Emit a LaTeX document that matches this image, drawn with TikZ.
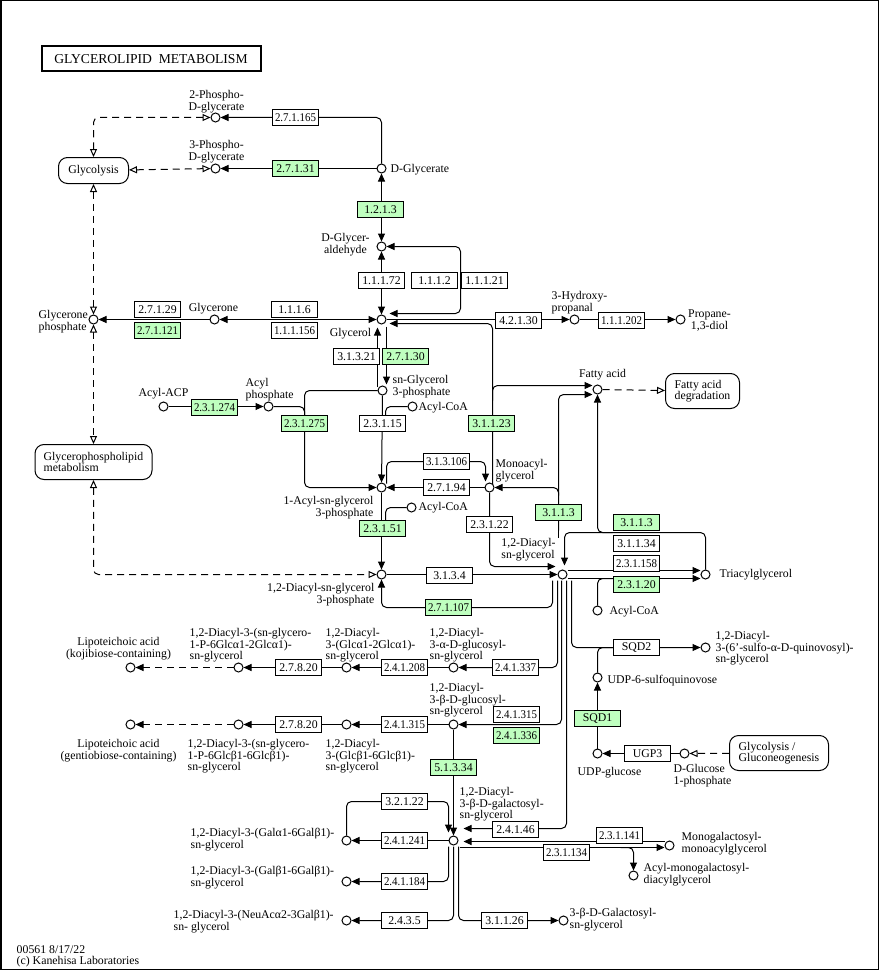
\documentclass[tikz,border=0pt]{standalone}
\usepackage{fontspec}
\setmainfont{Liberation Serif}
\usetikzlibrary{arrows.meta}
\definecolor{kgreen}{RGB}{191,255,191}
\newsavebox\ecbox
\newcommand\ecfit[1]{\sbox\ecbox{#1}\ifdim\wd\ecbox>41pt\resizebox{41pt}{\height}{\usebox\ecbox}\else\usebox\ecbox\fi}
\newcommand\ecn[4][ec]{\node[#1] (#2) at (#3) {\ecfit{#4}};}
\pgfdeclarelayer{bg}
\pgfsetlayers{bg,main}
\begin{document}
\begin{tikzpicture}[x=1pt,y=-1pt,
 conn/.style={line width=1pt, rounded corners=5pt},
 arr/.style={conn, -{Triangle[length=8pt,width=7pt]}},
 arrs/.style={conn, {Triangle[length=8pt,width=7pt]}-{Triangle[length=8pt,width=7pt]}},
 dsh/.style={line width=1pt, dash pattern=on 7pt off 5pt, rounded corners=5pt},
 harr/.style={-{Triangle[open,fill=white,length=8pt,width=7pt]}},
 harrs/.style={{Triangle[open,fill=white,length=8pt,width=7pt]}-{Triangle[open,fill=white,length=8pt,width=7pt]}},
 cpd/.style={circle, draw, line width=1pt, fill=white, minimum size=9pt, inner sep=0pt},
 ec/.style={draw, line width=1pt, fill=white, minimum width=46pt, minimum height=16pt, inner sep=0pt, font=\fontsize{11.8}{12}\selectfont},
 ecg/.style={ec, fill=kgreen},
 lbl/.style={inner sep=0pt, font=\fontsize{11.8}{11.5}\selectfont, align=left},
 lblc/.style={lbl, align=center},
 mapbox/.style={draw, line width=1pt, rounded corners=9pt, inner sep=0pt, font=\fontsize{11.8}{11.5}\selectfont, align=left}
]
\useasboundingbox (0,0) rectangle (882,971);
\draw[line width=1.5pt] (0.75,0.75) rectangle (878.25,969.25);
\begin{scope}[shift={(0.5,0.5)}]
% title
\node[draw, line width=2pt, minimum width=219pt, minimum height=25pt, inner sep=0pt, font=\fontsize{13.6}{14}\selectfont] (title) at (150.5,58.5) {GLYCEROLIPID\ \ METABOLISM};

% map boxes
\node[mapbox, minimum width=70pt, minimum height=26pt] (glycolysis) at (93,170) {Glycolysis};
\node[mapbox, minimum width=117pt, minimum height=35pt] (gpl) at (93,461.5) {Glycerophospholipid\\metabolism};
\node[mapbox, minimum width=74pt, minimum height=35pt] (fadeg) at (702,390.5) {Fatty acid\\degradation};
\node[mapbox, minimum width=99pt, minimum height=35pt] (glyco2) at (778.5,752.5) {Glycolysis /\\Gluconeogenesis};

% compounds
\node[cpd] (c2pg) at (215,117) {};
\node[cpd] (c3pg) at (215,168) {};
\node[cpd] (cdglyc) at (381,168) {};
\node[cpd] (cdgald) at (381,246) {};
\node[cpd] (cglycerol) at (381,319) {};
\node[cpd] (cdhap) at (93,319) {};
\node[cpd] (cglycerone) at (214,319) {};
\node[cpd] (cg3p) at (382,390) {};
\node[cpd] (cacylcoa1) at (412,406) {};
\node[cpd] (cacylp) at (268,406) {};
\node[cpd] (cacylacp) at (163,406) {};
\node[cpd] (c1acyl) at (381,487) {};
\node[cpd] (cacylcoa2) at (411,507) {};
\node[cpd] (cmag) at (489,487) {};
\node[cpd] (cpa) at (381,574) {};
\node[cpd] (cdag) at (562,574) {};
\node[cpd] (cfa) at (597,389) {};
\node[cpd] (chp) at (574,319) {};
\node[cpd] (cpd13) at (680,319) {};
\node[cpd] (ctag) at (705,574) {};
\node[cpd] (cacylcoa3) at (597,610) {};
\node[cpd] (csqdg) at (705,647) {};
\node[cpd] (cudpsq) at (597,677) {};
\node[cpd] (cudpg) at (597,753) {};
\node[cpd] (cg1p) at (684,753) {};
\node[cpd] (clta1) at (130,667) {};
\node[cpd] (cptaglc) at (238,667) {};
\node[cpd] (cglcglc) at (346,667) {};
\node[cpd] (caglc) at (453,667) {};
\node[cpd] (clta2) at (130,724) {};
\node[cpd] (cptbglc) at (238,724) {};
\node[cpd] (cbglcglc) at (346,724) {};
\node[cpd] (cbglc) at (453,724) {};
\node[cpd] (cmgdg) at (453,840) {};
\node[cpd] (cgal2a) at (346,840) {};
\node[cpd] (cgal2b) at (346,881) {};
\node[cpd] (cneu) at (346,920) {};
\node[cpd] (cmgmg) at (669,845) {};
\node[cpd] (camgdg) at (633,875) {};
\node[cpd] (cgalgly) at (563,920) {};

% enzymes
\ecn{e271165}{295,117}{2.7.1.165}
\ecn[ecg]{e27131}{295,168}{2.7.1.31}
\ecn[ecg]{e1213}{380,209}{1.2.1.3}
\ecn{e11172}{381,280}{1.1.1.72}
\ecn{e1112}{434,280}{1.1.1.2}
\ecn{e11121}{484,280}{1.1.1.21}
\ecn{e27129}{157,309}{2.7.1.29}
\ecn[ecg]{e271121}{157,330}{2.7.1.121}
\ecn{e1116}{294,309}{1.1.1.6}
\ecn{e111156}{294,330}{1.1.1.156}
\ecn{e42130}{518,320}{4.2.1.30}
\ecn{e111202}{621,320}{1.1.1.202}
\ecn{e31321}{356,356}{3.1.3.21}
\ecn[ecg]{e27130}{405,356}{2.7.1.30}
\ecn[ecg]{e231274}{214,407}{2.3.1.274}
\ecn[ecg]{e231275}{304,423}{2.3.1.275}
\ecn{e23115}{382,423}{2.3.1.15}
\ecn[ecg]{e31123}{491,423}{3.1.1.23}
\ecn{e313106}{446,461}{3.1.3.106}
\ecn{e27194}{446,487}{2.7.1.94}
\ecn[ecg]{e23151}{382,528}{2.3.1.51}
\ecn{e23122}{489,524}{2.3.1.22}
\ecn[ecg]{e3113a}{558,512}{3.1.1.3}
\ecn[ecg]{e3113b}{636,522}{3.1.1.3}
\ecn{e31134}{636,543}{3.1.1.34}
\ecn{e231158}{636,563}{2.3.1.158}
\ecn[ecg]{e23120}{636,584}{2.3.1.20}
\ecn{e3134}{449,575}{3.1.3.4}
\ecn[ecg]{e271107}{448,607}{2.7.1.107}
\ecn{esqd2}{636,647}{SQD2}
\ecn[ecg]{esqd1}{597,718}{SQD1}
\ecn{eugp3}{647,753}{UGP3}
\ecn{e27820a}{298,667}{2.7.8.20}
\ecn{e241208}{404,667}{2.4.1.208}
\ecn{e241337}{515,667}{2.4.1.337}
\ecn{e27820b}{298,724}{2.7.8.20}
\ecn{e241315a}{404,724}{2.4.1.315}
\ecn{e241315b}{516,714}{2.4.1.315}
\ecn[ecg]{e241336}{516,735}{2.4.1.336}
\ecn[ecg]{e51334}{453,767}{5.1.3.34}
\ecn{e32122}{404,801}{3.2.1.22}
\ecn{e241241}{404,840}{2.4.1.241}
\ecn{e241184}{404,881}{2.4.1.184}
\ecn{e2435}{404,920}{2.4.3.5}
\ecn{e24146}{515,829}{2.4.1.46}
\ecn{e231141}{619,835}{2.3.1.141}
\ecn{e231134}{566,852}{2.3.1.134}
\ecn{e31126}{504,920}{3.1.1.26}

% labels
\node[lblc] (l2pg) at (216,101) {2-Phospho-\\D-glycerate};
\node[lblc] (l3pg) at (216,151) {3-Phospho-\\D-glycerate};
\node[lbl, anchor=west] (ldglyc) at (390,169) {D-Glycerate};
\node[lblc] (ldgald) at (345,244) {D-Glycer-\\aldehyde};
\node[lbl] (lglycerol) at (350,333) {Glycerol};
\node[lbl, anchor=west] (ldhap) at (38,321) {Glycerone\\phosphate};
\node[lbl] (lglycerone) at (213,308) {Glycerone};
\node[lbl, anchor=west] (lg3p) at (392,386) {sn-Glycerol\\3-phosphate};
\node[lbl, anchor=west] (lacoa1) at (418,407) {Acyl-CoA};
\node[lbl, anchor=west] (lacylp) at (245,389) {Acyl\\phosphate};
\node[lbl] (lacp) at (163,393) {Acyl-ACP};
\node[lbl, anchor=east, align=right] (l1acyl) at (373,507) {1-Acyl-sn-glycerol\\3-phosphate};
\node[lbl, anchor=west] (lacoa2) at (418,507) {Acyl-CoA};
\node[lbl, anchor=west] (lmag) at (495,470) {Monoacyl-\\glycerol};
\node[lbl, anchor=east, align=right] (lpa) at (374,594) {1,2-Diacyl-sn-glycerol\\3-phosphate};
\node[lbl] (ldag) at (528,549) {1,2-Diacyl-\\sn-glycerol};
\node[lbl] (lfa) at (602,374) {Fatty acid};
\node[lbl, anchor=west] (lhp) at (551,302) {3-Hydroxy-\\propanal};
\node[lblc] (lpd13) at (709,320) {Propane-\\1,3-diol};
\node[lbl, anchor=west] (ltag) at (719,574) {Triacylglycerol};
\node[lbl, anchor=west] (lacoa3) at (609,611) {Acyl-CoA};
\node[lbl, anchor=west] (lsqdg) at (715,648) {1,2-Diacyl-\\3-(6'-sulfo-α-D-quinovosyl)-\\sn-glycerol};
\node[lbl, anchor=west] (ludpsq) at (607,680) {UDP-6-sulfoquinovose};
\node[lbl] (ludpg) at (609,772) {UDP-glucose};
\node[lbl, anchor=west] (lg1p) at (673,775) {D-Glucose\\1-phosphate};
\node[lblc] (llta1) at (118,648) {Lipoteichoic acid\\(kojibiose-containing)};
\node[lbl, anchor=west] (lptaglc) at (189,645) {1,2-Diacyl-3-(sn-glycero-\\1-P-6Glcα1-2Glcα1)-\\sn-glycerol};
\node[lbl, anchor=west] (lglcglc) at (325,645) {1,2-Diacyl-\\3-(Glcα1-2Glcα1)-\\sn-glycerol};
\node[lbl, anchor=west] (laglc) at (429,645) {1,2-Diacyl-\\3-α-D-glucosyl-\\sn-glycerol};
\node[lblc] (llta2) at (118,750) {Lipoteichoic acid\\(gentiobiose-containing)};
\node[lbl, anchor=west] (lptbglc) at (187,756) {1,2-Diacyl-3-(sn-glycero-\\1-P-6Glcβ1-6Glcβ1)-\\sn-glycerol};
\node[lbl, anchor=west] (lbglcglc) at (325,756) {1,2-Diacyl-\\3-(Glcβ1-6Glcβ1)-\\sn-glycerol};
\node[lbl, anchor=west] (lbglc) at (429,700) {1,2-Diacyl-\\3-β-D-glucosyl-\\sn-glycerol};
\node[lbl, anchor=west] (lmgdg) at (459,804) {1,2-Diacyl-\\3-β-D-galactosyl-\\sn-glycerol};
\node[lbl, anchor=west] (lgal2a) at (190,839) {1,2-Diacyl-3-(Galα1-6Galβ1)-\\sn-glycerol};
\node[lbl, anchor=west] (lgal2b) at (190,877) {1,2-Diacyl-3-(Galβ1-6Galβ1)-\\sn-glycerol};
\node[lbl, anchor=west] (lneu) at (173,921) {1,2-Diacyl-3-(NeuAcα2-3Galβ1)-\\sn- glycerol};
\node[lbl, anchor=west] (lmgmg) at (681,843) {Monogalactosyl-\\monoacylglycerol};
\node[lbl, anchor=west] (lamgdg) at (643,874) {Acyl-monogalactosyl-\\diacylglycerol};
\node[lbl, anchor=west] (lgalgly) at (569,919) {3-β-D-Galactosyl-\\sn-glycerol};
\node[lbl, anchor=west] (lfoot1) at (16,949) {00561 8/17/22};
\node[lbl, anchor=west] (lfoot2) at (16,961) {(c) Kanehisa Laboratories};

% connectors
\begin{pgfonlayer}{bg}
\draw[arr] (cdglyc) |- (c2pg);
\draw[arr] (cdglyc) -- (c3pg);
\draw[dsh,harrs] (glycolysis) |- (c2pg);
\draw[dsh,harrs] (glycolysis) -- (c3pg);
\draw[arrs] (cdglyc) -- (cdgald);
\draw[arrs] (cdgald) -- (cglycerol);
\draw[arrs] (cdgald) -- (460,246) -- (460,313) -- (389,313);
\draw[arr] (cglycerol) -- (chp);
\draw[arr] (chp) -- (cpd13);
\draw[arr] (492,484) -- (492,323) -- (389,323);
\draw[arr] (492,400) -- (492,385) -- (592,385);
\draw[arrs] (cglycerone) -- (cglycerol);
\draw[arr] (cglycerone) -- (cdhap);
\draw[arr] (377,386) -- (377,327);
\draw[arr] (386,326) -- (386,384);
\draw[arr] (cg3p) -- (c1acyl);
\draw[conn] (cacylcoa1) -| (385,416);
\draw[arr] (cg3p) -| (304,450) -- (304,487) -- (c1acyl);
\draw[conn] (cacylp) -| (304,420);
\draw[arr] (cacylacp) -- (cacylp);
\draw[arr] (386,483) -- (386,461) -- (485,461) -- (485,481);
\draw[arr] (cmag) -- (c1acyl);
\draw[arr] (c1acyl) -- (cpa);
\draw[conn] (cacylcoa2) -| (385,521);
\draw[dsh,harrs] (glycolysis) -- (cdhap);
\draw[dsh,harrs] (cdhap) -- (gpl);
\draw[dsh,harrs] (gpl) |- (cpa);
\draw[arr] (cpa) -- (cdag);
\draw[arr] (cmag) |- (555,566);
\draw[arr] (552,580) -- (552,607) -- (381,607) -- (cpa);
\draw[arr] (557,580) -- (557,667) -- (caglc);
\draw[arr] (561,580) -- (561,724) -- (cbglc);
\draw[arr] (566,580) -- (566,828) -- (463,828);
\draw[arr] (571,580) -- (571,647) -- (csqdg);
\draw[conn] (cudpsq) |- (612,647);
\draw[arr] (cudpg) -- (cudpsq);
\draw[arr] (cg1p) -- (cudpg);
\draw[dsh,harr] (glyco2) -- (cg1p);
\draw[dsh,harr] (cfa) -- (fadeg);
\draw[arr] (567,570) -- (700,570);
\draw[arr] (567,578) -- (700,578);
\draw[conn] (cacylcoa3) |- (612,578);
\draw[arr] (ctag) -- (705,532) -- (564,532) -- (564,565);
\draw[arr] (612,532) -- (597,532) -- (cfa);
\draw[conn] (558,537) -- (558,520);
\draw[arr] (558,530) -- (558,487) -- (cmag);
\draw[arr] (558,495) -- (558,394) -- (592,394);
\draw[arr] (caglc) -- (cglcglc);
\draw[arr] (cglcglc) -- (cptaglc);
\draw[arr, dash pattern=on 7pt off 5pt] (cptaglc) -- (clta1);
\draw[arr] (cbglc) -- (cbglcglc);
\draw[arr] (cbglcglc) -- (cptbglc);
\draw[arr, dash pattern=on 7pt off 5pt] (cptbglc) -- (clta2);
\draw[arr] (cbglc) -- (cmgdg);
\draw[arr] (cgal2a) |- (448,801) -- (448,832);
\draw[arr] (cmgdg) -- (cgal2a);
\draw[arr] (448,846) -- (448,881) -- (cgal2b);
\draw[arr] (453,846) -- (453,920) -- (cneu);
\draw[arr] (458,846) -- (458,920) -- (cgalgly);
\draw[arr] (664,841) -- (463,841);
\draw[arr] (459,847) -- (664,847);
\draw[arr] (620,847) -| (camgdg);
\end{pgfonlayer}
\end{scope}
\end{tikzpicture}
\end{document}
